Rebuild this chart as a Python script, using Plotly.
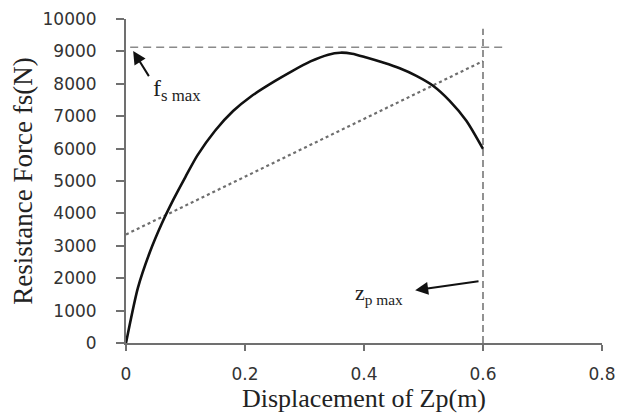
import plotly.graph_objects as go

# Resistance force curve (solid)
disp = [0, 0.02, 0.04, 0.06, 0.08, 0.10, 0.12, 0.15, 0.18, 0.21, 0.25, 0.28, 0.31, 0.34,
        0.36, 0.38, 0.404, 0.432, 0.46, 0.488, 0.516, 0.544, 0.572, 0.6]
force = [0, 1700, 2800, 3680, 4440, 5130, 5790, 6560, 7160, 7610, 8080, 8400, 8690, 8900,
         8960, 8930, 8810, 8655, 8480, 8245, 7940, 7475, 6860, 5990]

# Dotted straight line
lin_x = [0, 0.6]
lin_y = [3350, 8700]

# Dashed reference lines
fsmax_x = [0.007, 0.64]
fsmax_y = [9130, 9130]
zpmax_x = [0.6, 0.6]
zpmax_y = [0, 9700]

x_ticks = [0, 0.2, 0.4, 0.6, 0.8]
x_labels = ["0", "0.2", "0.4", "0.6", "0.8"]
y_ticks = list(range(0, 10001, 1000))
y_labels = [str(v) for v in y_ticks]

fig = go.Figure()
fig.add_trace(go.Scatter(x=fsmax_x, y=fsmax_y, mode="lines",
                         line=dict(color="#8a8a8a", width=1.6, dash="8px,5px"), hoverinfo="skip"))
fig.add_trace(go.Scatter(x=zpmax_x, y=zpmax_y, mode="lines",
                         line=dict(color="#777777", width=1.6, dash="7px,4px"), hoverinfo="skip"))
fig.add_trace(go.Scatter(x=lin_x, y=lin_y, mode="lines",
                         line=dict(color="#6e6e6e", width=2.2, dash="dot")))
fig.add_trace(go.Scatter(x=disp, y=force, mode="lines",
                         line=dict(color="#111111", width=2.6, shape="spline", smoothing=0.7)))

serif = "Liberation Serif, Times New Roman, serif"
sans = "DejaVu Sans, Verdana, sans-serif"

fig.add_annotation(x=0.012, y=9015, ax=0.04, ay=8190, xref="x", yref="y", axref="x", ayref="y",
                   text="", showarrow=True, arrowhead=2, arrowsize=1.3, arrowwidth=2, arrowcolor="#111111")
fig.add_annotation(x=0.086, y=7800, xref="x", yref="y", showarrow=False,
                   text="f<sub>s max</sub>", font=dict(family=serif, size=24, color="#222222"))
fig.add_annotation(x=0.486, y=1630, ax=0.595, ay=1910, xref="x", yref="y", axref="x", ayref="y",
                   text="", showarrow=True, arrowhead=2, arrowsize=1.3, arrowwidth=2, arrowcolor="#111111")
fig.add_annotation(x=0.426, y=1500, xref="x", yref="y", showarrow=False,
                   text="z<sub>p max</sub>", font=dict(family=serif, size=22, color="#222222"))

fig.update_layout(
    width=620, height=417,
    margin=dict(l=126, r=18, t=19, b=74, autoexpand=False),
    paper_bgcolor="white", plot_bgcolor="white",
    showlegend=False,
    xaxis=dict(range=[0, 0.8], tickvals=x_ticks, ticktext=x_labels,
               showgrid=False, zeroline=False, showline=True, linecolor="#707070", linewidth=2,
               ticks="outside", ticklen=6, tickwidth=2, tickcolor="#707070", ticklabelstandoff=9,
               tickfont=dict(family=sans, size=17, color="#333333"),
               title=dict(text="Displacement of Zp(m)", font=dict(family=serif, size=26, color="#222222"), standoff=0)),
    yaxis=dict(range=[0, 10000], tickvals=y_ticks, ticktext=y_labels,
               showgrid=False, zeroline=False, showline=True, linecolor="#707070", linewidth=2,
               ticks="outside", ticklen=8, tickwidth=2, tickcolor="#707070", ticklabelstandoff=16,
               tickfont=dict(family=sans, size=17, color="#333333"),
               title=dict(text="Resistance Force fs(N)", font=dict(family=serif, size=27, color="#222222"), standoff=2)),
)

fig.write_html("out.html", config={"displayModeBar": False},
               post_script="document.body.style.margin='0';")
